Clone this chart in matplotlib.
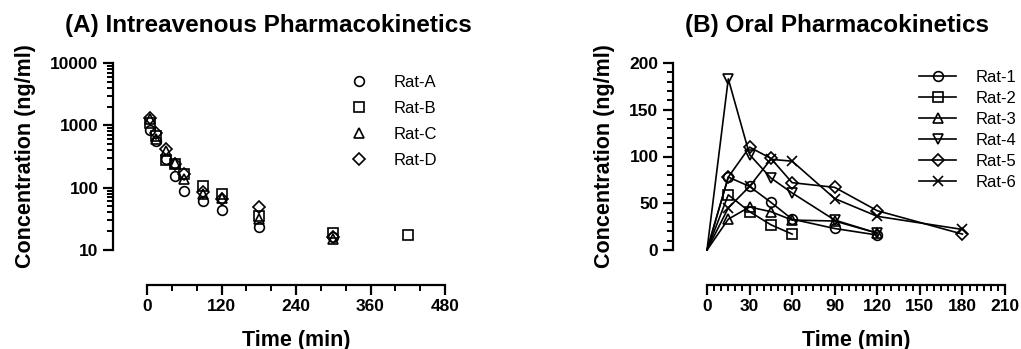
import numpy as np
import matplotlib
matplotlib.use("Agg")
import matplotlib.pyplot as plt
from matplotlib.ticker import MultipleLocator, LogLocator, NullFormatter

plt.rcParams['font.family'] = ['Liberation Sans', 'DejaVu Sans']

# (A) intravenous data
iv_t = [5, 15, 30, 45, 60, 90, 120, 180, 300]
iv_ratA = [850, 560, 285, 154, 88, 61, 44, 23, 16]
iv_ratB = [1100, 680, 278, 237, 164, 106, 78, 35, 19]
iv_ratC = [1250, 600, 388, 252, 136, 78, 69, 32, 15]
iv_ratD = [1330, 760, 412, 237, 164, 86, 66, 49, 16]
iv_ratB_t_extra = [420]
iv_ratB_extra = [17.4]

# (B) oral data
po_t = [0, 15, 30, 45, 60, 90, 120, 180]
po_rat1 = [0, 78, 68, 51, 33, 23, 16]
po_rat2 = [0, 59, 41, 27, 17]
po_rat3 = [0, 33, 46, 41, 32, 31, 18]
po_rat4 = [0, 183, 102, 77, 61, 32, 18]
po_rat5 = [0, 78, 110, 98, 72, 67, 42, 17]
po_rat6 = [0, 45, 68, 97, 95, 55, 36, 22]

fig = plt.figure(figsize=(10.21, 3.49), dpi=100)
W, H = 1021, 349
axA = fig.add_axes([147 / W, 1 - 250 / H, 298 / W, 187 / H])
axB = fig.add_axes([707 / W, 1 - 250 / H, 298 / W, 187 / H])

mk = dict(mfc='none', mec='black', mew=1.2, ms=7, clip_on=False)

def style(ax):
    for s in ['top', 'right']:
        ax.spines[s].set_visible(False)
    ax.spines['left'].set_position(('outward', 24.5))
    ax.spines['bottom'].set_position(('outward', 25))
    for s in ['left', 'bottom']:
        ax.spines[s].set_linewidth(1.6)
    ax.tick_params(which='major', length=7, width=1.6, labelsize=12.5)
    ax.tick_params(which='minor', length=4, width=1.4)
    for lb in ax.get_xticklabels() + ax.get_yticklabels():
        lb.set_fontweight('bold')

# ---- A ----
axA.plot(iv_t, iv_ratA, 'o', ls='none', label='Rat-A', **mk)
axA.plot(iv_t + iv_ratB_t_extra, iv_ratB + iv_ratB_extra, 's', ls='none', label='Rat-B', **mk)
axA.plot(iv_t, iv_ratC, '^', ls='none', label='Rat-C', **mk)
axA.plot(iv_t, iv_ratD, 'D', ls='none', label='Rat-D', **dict(mk, ms=6.5))
axA.set_yscale('log')
axA.set_ylim(10, 10000)
axA.set_xlim(0, 480)
axA.xaxis.set_major_locator(MultipleLocator(120))
axA.xaxis.set_minor_locator(MultipleLocator(40))
axA.yaxis.set_minor_locator(LogLocator(base=10, subs=np.arange(2, 10), numticks=20))
axA.yaxis.set_minor_formatter(NullFormatter())
axA.set_yticks([10, 100, 1000, 10000])
axA.set_yticklabels(['10', '100', '1000', '10000'])
style(axA)
axA.set_title('(A) Intreavenous Pharmacokinetics', fontsize=17.5, fontweight='bold',
              pad=22.5, x=0.406)
axA.set_xlabel('Time (min)', fontsize=15.5, fontweight='bold', labelpad=11)
axA.set_ylabel('Concentration (ng/ml)', fontsize=15.5, fontweight='bold', labelpad=10)
axA.legend(loc='upper left', bbox_to_anchor=(0.66, 0.97), frameon=False, fontsize=12,
           handlelength=1.0, handletextpad=1.6, labelspacing=0.65, borderaxespad=0)

# ---- B ----
lk = dict(mk, color='black', lw=1.2, markevery=slice(1, None))
n = len
axB.plot(po_t[:n(po_rat1)], po_rat1, marker='o', label='Rat-1', **lk)
axB.plot(po_t[:n(po_rat2)], po_rat2, marker='s', label='Rat-2', **lk)
axB.plot(po_t[:n(po_rat3)], po_rat3, marker='^', label='Rat-3', **lk)
axB.plot(po_t[:n(po_rat4)], po_rat4, marker='v', label='Rat-4', **lk)
axB.plot(po_t[:n(po_rat5)], po_rat5, marker='D', label='Rat-5', **dict(lk, ms=6.5))
axB.plot(po_t[:n(po_rat6)], po_rat6, marker='x', label='Rat-6', **lk)
axB.set_ylim(0, 200)
axB.set_xlim(0, 210)
axB.xaxis.set_major_locator(MultipleLocator(30))
axB.xaxis.set_minor_locator(MultipleLocator(5))
axB.yaxis.set_major_locator(MultipleLocator(50))
axB.yaxis.set_minor_locator(MultipleLocator(10))
style(axB)
axB.set_title('(B) Oral Pharmacokinetics', fontsize=17.5, fontweight='bold',
              pad=22.5, x=0.436)
axB.set_xlabel('Time (min)', fontsize=15.5, fontweight='bold', labelpad=11)
axB.set_ylabel('Concentration (ng/ml)', fontsize=15.5, fontweight='bold', labelpad=10)
leg = axB.legend(loc='upper left', bbox_to_anchor=(0.69, 1.0), frameon=False, fontsize=12,
                 handlelength=2.2, handletextpad=1.2, labelspacing=0.36, borderaxespad=0)
for h in leg.legend_handles:
    h.set_markevery([1])

fig.savefig('out.png', dpi=100)
